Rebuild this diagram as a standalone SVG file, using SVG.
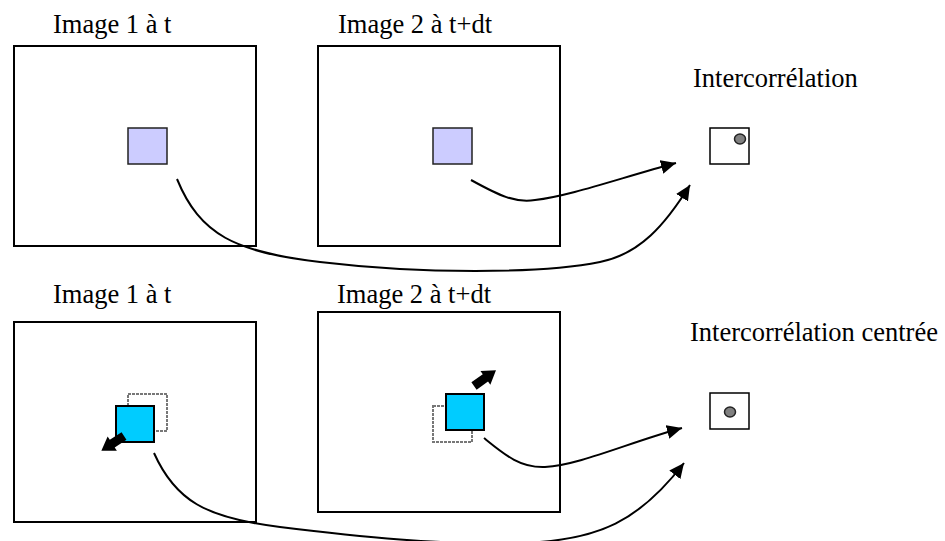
<svg xmlns="http://www.w3.org/2000/svg" width="945" height="541" viewBox="0 0 945 541">
<style>
text{font-family:"Liberation Serif","Times New Roman",serif;font-size:26.5px;fill:#000}
.frame{fill:#fff;stroke:#000;stroke-width:2}
.win{fill:#ccccff;stroke:#222;stroke-width:1.5}
.cyan{fill:#00ccff;stroke:#000;stroke-width:2}
.ghost{fill:none;stroke:#777;stroke-width:2;stroke-dasharray:3 1}
.res{fill:#fff;stroke:#000;stroke-width:1.5}
.dot{fill:#808080;stroke:#222;stroke-width:1.5}
.conn{fill:none;stroke:#000;stroke-width:2;marker-end:url(#ah)}
.thick{fill:#000}
</style>
<defs>
<marker id="ah" markerUnits="userSpaceOnUse" markerWidth="16" markerHeight="14" refX="15" refY="7" orient="auto">
<path d="M0,0 L15,7 L0,14 z" fill="#000"/>
</marker>
<path id="block" d="M0,-4.5 L14,-4.5 L14,-8.5 L27,0 L14,8.5 L14,4.5 L0,4.5 z"/>
</defs>
<g id="img1-top">
<text x="53" y="33">Image 1 à t</text>
<rect class="frame" x="14" y="46" width="242" height="200"/>
<rect class="win" x="128" y="128" width="39" height="36"/>
</g>
<g id="img2-top">
<text x="338" y="33">Image 2 à t+dt</text>
<rect class="frame" x="318" y="46" width="242" height="200"/>
<rect class="win" x="433" y="128" width="39" height="36"/>
</g>
<g id="corr-top">
<text x="693" y="87">Intercorrélation</text>
<rect class="res" x="710" y="128" width="39" height="36"/>
<ellipse class="dot" cx="740" cy="139" rx="5.5" ry="5"/>
</g>
<g id="img1-bottom">
<text x="53" y="303">Image 1 à t</text>
<rect class="frame" x="14" y="322" width="242" height="200"/>
<rect class="ghost" x="128" y="394" width="39" height="37"/>
<rect class="cyan" x="116" y="406" width="38" height="36"/>
<use href="#block" class="thick" transform="translate(124,436) rotate(147)"/>
</g>
<g id="img2-bottom">
<text x="337" y="303">Image 2 à t+dt</text>
<rect class="frame" x="318" y="312" width="242" height="200"/>
<rect class="ghost" x="433" y="406" width="39" height="36"/>
<rect class="cyan" x="446" y="394" width="38" height="36"/>
<use href="#block" class="thick" transform="translate(474,386) rotate(-35.5)"/>
</g>
<g id="corr-bottom">
<text x="690" y="341">Intercorrélation centrée</text>
<rect class="res" x="710" y="393" width="39" height="36"/>
<ellipse class="dot" cx="730" cy="412" rx="5.5" ry="5"/>
</g>
<g id="connectors">
<path class="conn" d="M471,180 C500,196 515,203 535,200 C570,196 620,178 676,163"/>
<path class="conn" d="M177,179 C200,235 235,252 320,262 C420,274 540,274 600,262 C640,254 665,225 690,185"/>
<path class="conn" d="M484,438 C505,455 520,468 545,467 C580,465 630,442 682,428"/>
<path class="conn" d="M154,453 C175,500 205,518 280,527 C360,537 440,545 520,543 C600,541 640,520 684,463"/>
</g>
</svg>
